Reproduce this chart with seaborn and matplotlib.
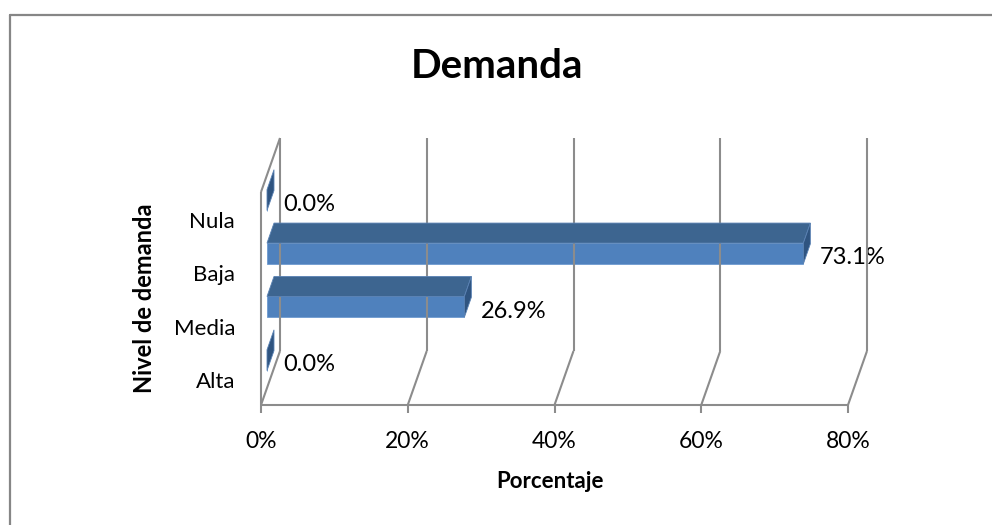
import matplotlib
matplotlib.use("Agg")
import matplotlib.pyplot as plt
import matplotlib.transforms as mtrans
from matplotlib.patches import Polygon
from matplotlib.lines import Line2D
import seaborn as sns
import pandas as pd

# ---------------- data ----------------
categories = ["Nula", "Baja", "Media", "Alta"]
values = [0.0, 73.1, 26.9, 0.0]
x_ticks = [0, 20, 40, 60, 80]
x_tick_labels = ["0%", "20%", "40%", "60%", "80%"]
title = "Demanda"
x_label = "Porcentaje"
y_label = "Nivel de demanda"

# ---------------- style ----------------
FRONT = "#4F81BD"
TOP = "#3D6590"
SIDE = "#2F5480"
GRID = "#8C8C8C"
BORDER = "#868686"

sns.set_theme(style="white")
plt.rcParams['font.family'] = ['Lato', 'DejaVu Sans']

W, H = 992, 525
DPI = 100
fig = plt.figure(figsize=(W / DPI, H / DPI), dpi=DPI)
fig.patch.set_facecolor("white")

# axes = plane in which the bar fronts lie
L, R, T, B = 267, 854, 175, 388
ax = fig.add_axes([L / W, 1 - B / H, (R - L) / W, (B - T) / H])
df = pd.DataFrame({"Nivel": categories, "Pct": values})
sns.barplot(data=df, x="Pct", y="Nivel", order=categories, orient="h",
            width=0.39, color=FRONT, saturation=1, ax=ax, zorder=3,
            linewidth=0)
YTOP, YBOT = -0.47, 3.52
ax.set_xlim(0, 80)
ax.set_ylim(YBOT, YTOP)
ax.axis("off")


def off(dx, dy):
    """data transform shifted by dx px right, dy px down"""
    return ax.transData + mtrans.ScaledTranslation(dx / DPI, -dy / DPI, fig.dpi_scale_trans)


FRONT_OFF = (-6, 17)   # front plane relative to bar plane
BACK_OFF = (13, -37)   # back plane relative to bar plane
LW = 1.5

ident = mtrans.IdentityTransform()


def disp(x, y, o):
    return off(*o).transform((x, y))


def seg(p0, p1, z=1):
    fig.add_artist(Line2D([p0[0], p1[0]], [p0[1], p1[1]], transform=ident,
                          color=GRID, lw=LW, zorder=z, solid_capstyle="butt"))


# back wall gridlines
for xt in x_ticks:
    seg(disp(xt, YBOT, BACK_OFF), disp(xt, YTOP, BACK_OFF))
    # floor slant
    seg(disp(xt, YBOT, FRONT_OFF), disp(xt, YBOT, BACK_OFF))
    # tick mark
    p = disp(xt, YBOT, FRONT_OFF)
    seg(p, (p[0], p[1] - 8))

# front floor line
seg(disp(0, YBOT, FRONT_OFF), disp(80, YBOT, FRONT_OFF))
# left wall front edge + top slant
seg(disp(0, YBOT, FRONT_OFF), disp(0, YTOP, FRONT_OFF))
seg(disp(0, YTOP, FRONT_OFF), disp(0, YTOP, BACK_OFF))

# 3D faces of bars
DDX, DDY = 7, 20
for patch in ax.patches:
    x0 = patch.get_x()
    w = patch.get_width()
    y0 = patch.get_y()
    h = patch.get_height()
    ytop_d = min(y0, y0 + h)
    ybot_d = max(y0, y0 + h)
    a = ax.transData.transform((x0, ytop_d))
    b = ax.transData.transform((x0 + w, ytop_d))
    c = ax.transData.transform((x0 + w, ybot_d))
    top = [a, b, (b[0] + DDX, b[1] + DDY), (a[0] + DDX, a[1] + DDY)]
    side = [c, b, (b[0] + DDX, b[1] + DDY), (c[0] + DDX, c[1] + DDY)]
    if w > 0:
        fig.add_artist(Polygon(top, closed=True, transform=ident,
                               facecolor=TOP, edgecolor="#5A82B4", lw=0.6, zorder=4))
    fig.add_artist(Polygon(side, closed=True, transform=ident,
                           facecolor=SIDE, edgecolor="#5A82B4", lw=0.6, zorder=4))
for patch in ax.patches:
    patch.set_edgecolor("#6F9BD0")
    patch.set_linewidth(0.6)

# value labels
for i, v in enumerate(values):
    ax.text(v, i, f"{v:.1f}%", transform=off(16, 11), ha="left",
            va="baseline", fontsize=17, color="black", clip_on=False)

# category labels
for i, cat in enumerate(categories):
    ax.text(0, i, cat, transform=off(-32, 28), ha="right", va="baseline",
            fontsize=16, color="black", clip_on=False)

# x tick labels
for xt, lab in zip(x_ticks, x_tick_labels):
    ax.text(xt, YBOT, lab, transform=off(FRONT_OFF[0], FRONT_OFF[1] + 43),
            ha="center", va="baseline", fontsize=16.5, color="black", clip_on=False)

# axis titles
fig.text(550 / W, 1 - 488 / H, x_label, ha="center", va="baseline",
         fontsize=16, fontweight="bold", color="black")
fig.text(145 / W, 1 - 298 / H, y_label, ha="center", va="center",
         rotation=90, fontsize=17, fontweight="bold", color="black")
fig.text(497 / W, 1 - 78 / H, title, ha="center", va="baseline",
         fontsize=29, fontweight="bold", color="black")

# chart border (top + left only, rest outside the image)
fig.add_artist(Line2D([10 / W, 1.0], [1 - 15 / H, 1 - 15 / H], transform=fig.transFigure,
                      color=BORDER, lw=1.6))
fig.add_artist(Line2D([10 / W, 10 / W], [1 - 15 / H, 0.0], transform=fig.transFigure,
                      color=BORDER, lw=1.6))

fig.savefig("out.png", dpi=DPI, facecolor="white")
